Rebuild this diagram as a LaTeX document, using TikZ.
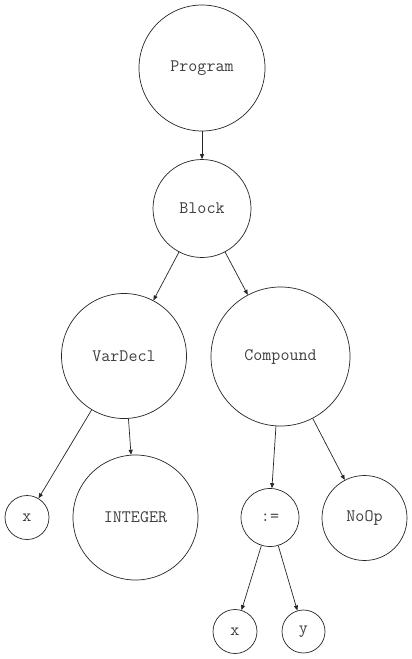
\documentclass[tikz,border=0pt]{standalone}
\usepackage{fontspec}
\usetikzlibrary{arrows.meta}
\begin{document}
\begin{tikzpicture}[x=1pt,y=-1pt,
  tn/.style={circle,draw=black!85,line width=0.7pt,inner sep=0pt,text=black!75,font=\ttfamily\fontsize{17.5}{20}\selectfont},
  edge/.style={draw=black!85,line width=0.7pt,-{Triangle[length=5pt,width=4pt]}}]
\useasboundingbox (0,0) rectangle (412,659);
\fill[white] (0,0) rectangle (412,659);
\node[tn,minimum size=126pt] (prog) at (202,68) {Program};
\node[tn,minimum size=98pt] (block) at (202,208.5) {Block};
\node[tn,minimum size=125pt] (vard) at (124,356) {VarDecl};
\node[tn,minimum size=139pt] (comp) at (280.5,356.5) {Compound};
\node[tn,minimum size=44pt] (x1) at (27,517.5) {x};
\node[tn,minimum size=125pt] (intg) at (135.5,517.5) {INTEGER};
\node[tn,minimum size=58pt] (assign) at (270,517.5) {:=};
\node[tn,minimum size=85pt] (noop) at (364.5,518) {NoOp};
\node[tn,minimum size=44pt] (x2) at (235,631.5) {x};
\node[tn,minimum size=43pt] (y) at (303.5,631.5) {y};
\draw[edge] (prog) -- (block);
\draw[edge] (block) -- (vard);
\draw[edge] (block) -- (comp);
\draw[edge] (vard) -- (x1);
\draw[edge] (vard) -- (intg);
\draw[edge] (comp) -- (assign);
\draw[edge] (comp) -- (noop);
\draw[edge] (assign) -- (x2);
\draw[edge] (assign) -- (y);
\end{tikzpicture}
\end{document}
